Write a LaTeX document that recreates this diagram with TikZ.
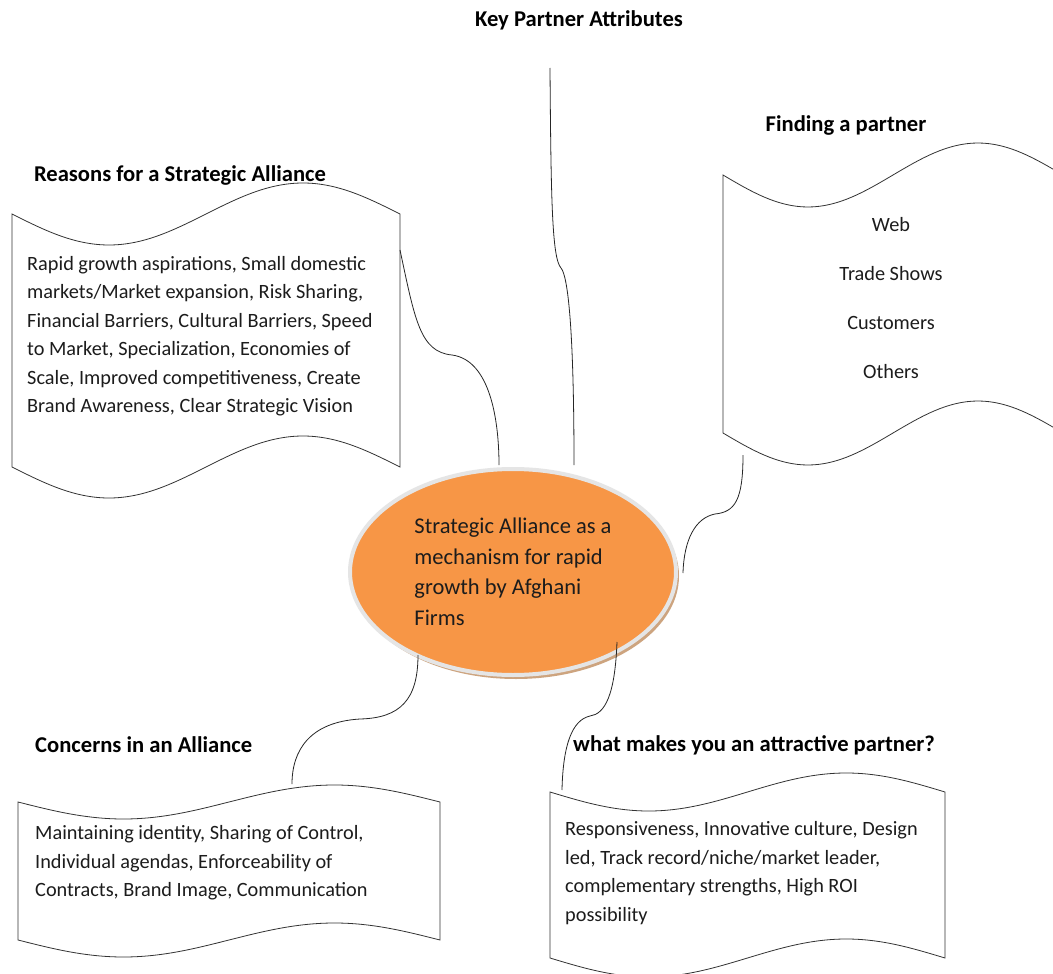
\documentclass[tikz,border=0pt]{standalone}
\usepackage{fontspec}
\setmainfont{Carlito}
\usetikzlibrary{shapes.geometric, shadows}
\definecolor{coreorange}{HTML}{F79646}
\definecolor{coreshadow}{HTML}{C89B72}
\definecolor{ink}{HTML}{1C1C1C}
% wavy sheet: left, top, width, height, amplitude
\def\wavebox#1#2#3#4#5{\draw[wave] (#1,#2) sin ++({#3/4},{#5}) cos ++({#3/4},{-#5}) sin ++({#3/4},{-#5}) cos ++({#3/4},{#5}) -- ++(0,#4) sin ++({-#3/4},{-#5}) cos ++({-#3/4},{#5}) sin ++({-#3/4},{#5}) cos ++({-#3/4},{-#5}) -- cycle;}

\begin{document}
\begin{tikzpicture}[
    x=1pt, y=-1pt,
    wave/.style={draw=black!80, fill=white, line width=0.8pt},
    link/.style={draw=black!85, line width=0.8pt},
    heading/.style={font=\fontsize{22.6}{26}\selectfont\bfseries, text=black, inner sep=0pt},
    boxtext/.style={font=\fontsize{20.3}{28.5}\selectfont, text=ink, align=left, inner sep=0pt, anchor=west},
    listtext/.style={font=\fontsize{20.3}{49}\selectfont, text=ink, align=center, inner sep=0pt},
    core/.style={ellipse, fill=coreorange, draw=white!90!black, line width=4pt, minimum width=326, minimum height=206, inner sep=0pt, align=left, text=ink, font=\fontsize{22.5}{30.5}\selectfont, drop shadow={shadow xshift=3pt, shadow yshift=-4pt, fill=coreshadow, opacity=0.9}},
]
\useasboundingbox (0,0) rectangle (1053,974);
\fill[white] (0,0) rectangle (1053,974);
\clip (0,0) rectangle (1053,974);

% Sheets
\wavebox{12}{214}{388}{253}{31}
\wavebox{723}{175}{340}{258}{32}
\wavebox{18}{802}{422}{138}{17}
\wavebox{550}{792}{395}{166}{19}

% Nodes
\node[core] (core) at (513,572) {Strategic Alliance as a\\mechanism for rapid\\growth by Afghani\\Firms};

\node[heading] (keyTitle) at (579,20) {Key Partner Attributes};
\node[heading] (findTitle) at (846,125) {Finding a partner};
\node[heading] (reasonsTitle) at (180,175) {Reasons for a Strategic Alliance};
\node[heading, anchor=west] (concernsTitle) at (35,745) {Concerns in an Alliance};
\node[heading, anchor=west] (attractTitle) at (573,745) {what makes you an attractive partner?};

\node[boxtext] (reasons) at (27,336) {Rapid growth aspirations, Small domestic\\markets/Market expansion, Risk Sharing,\\Financial Barriers, Cultural Barriers, Speed\\to Market, Specialization, Economies of\\Scale, Improved competitiveness, Create\\Brand Awareness, Clear Strategic Vision};
\node[listtext] (finding) at (891,298) {Web\\Trade Shows\\Customers\\Others};
\node[boxtext] (concerns) at (35,863) {Maintaining identity, Sharing of Control,\\Individual agendas, Enforceability of\\Contracts, Brand Image, Communication};
\node[boxtext] (attract) at (565,873) {Responsiveness, Innovative culture, Design\\led, Track record/niche/market leader,\\complementary strengths, High ROI\\possibility};

% Ends of the links
\coordinate (reasonsPort) at (400,250);
\coordinate (coreReasons) at (499,465);
\coordinate (keyTop) at (550,68);
\coordinate (coreKey) at (574,465);
\coordinate (findPort) at (743,455);
\coordinate (coreFind) at (683,573);
\coordinate (coreConcerns) at (418,655);
\coordinate (concernsPort) at (292,784);
\coordinate (coreAttract) at (617,642);
\coordinate (attractPort) at (562,790);

% Connections
\draw[link] (reasonsPort) .. controls (415,320) and (420,352) .. (452,355) .. controls (490,360) and (499,420) .. (coreReasons);
\draw[link] (keyTop) .. controls (551,200) and (552,258) .. (561,268) .. controls (568,276) and (574,330) .. (coreKey);
\draw[link] (findPort) .. controls (743,500) and (735,512) .. (715,514) .. controls (695,518) and (684,540) .. (coreFind);
\draw[link] (coreConcerns) .. controls (418,700) and (400,718) .. (360,719) .. controls (310,722) and (292,750) .. (concernsPort);
\draw[link] (coreAttract) .. controls (615,695) and (605,714) .. (590,716) .. controls (572,720) and (563,745) .. (attractPort);
\end{tikzpicture}
\end{document}
